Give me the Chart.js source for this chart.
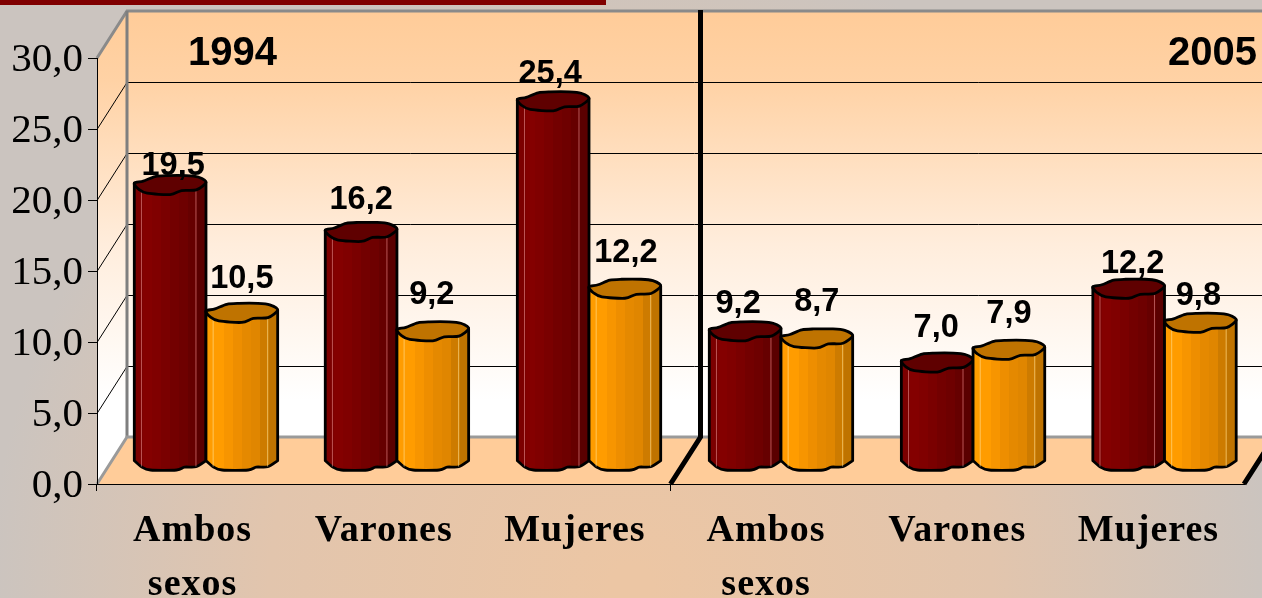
<!DOCTYPE html>
<html lang="es">
<head>
<meta charset="utf-8">
<title>1994 - 2005</title>
<style>html,body{margin:0;padding:0;background:#cbc4bf;overflow:hidden}canvas{display:block}</style>
<script src="https://cdn.jsdelivr.net/npm/chart.js@4/dist/chart.umd.js"></script>
</head>
<body>
<canvas id="c" width="1262" height="598"></canvas>
<script>
// ---- data ----
const categories = [['Ambos','sexos'],'Varones','Mujeres',['Ambos','sexos'],'Varones','Mujeres'];
const seriesDark = [19.5,16.2,25.4,9.2,7.0,12.2];
const seriesOrange = [10.5,9.2,12.2,8.7,7.9,9.8];
const periodLabels = ['1994','2005'];

// ---- label nudges (style only: dx, gap above cylinder top centre) ----
const darkNudge = [[3,10],[0,23],[-3,18],[-7,18],[-1,26],[4,16]];
const orangeNudge = [[0,25],[-1,27],[1,27],[0,27],[0,27],[-2,18]];

// ---- depth of the 3D box ----
const depthX = 30, depthY = 47;
const barShiftY = 22, topRy = 9.5, bottomRy = 8.5;
const barShiftX = [13.4,13.2,14.1,14.9,15.8,16.1];

// outline of a faceted cylinder cap and foot, unit coordinates
const cap = [[-1,-.2],[-.75,-.42],[-.42,-.9],[-.09,-1],[.45,-1],[.78,-.85],[1,-.3],[.73,.5],[.32,.58],[0,1],[-.64,.85],[-.88,.42]];
const foot = [[-1,-.1],[-.8,.62],[-.55,1],[.18,1],[.4,.66],[.72,.62],[1,-.1]];

const darkBands = ['#7c0000','#840000','#800000','#7a0000','#730000','#6e0000','#660000','#5a0000'];
const orangeBands = ['#ff9c00','#ff9c00','#f79500','#ee8e00','#e58900','#e08600','#cd7b00','#bf7300'];

// smooth curve through points (open or closed)
function spline(ctx, P, closed, move){
  const n = P.length, at = k => closed ? P[(k+n)%n] : P[Math.max(0,Math.min(n-1,k))];
  if (move) ctx.moveTo(P[0][0],P[0][1]); else ctx.lineTo(P[0][0],P[0][1]);
  const last = closed ? n : n-1;
  for (let k=0;k<last;k++){
    const a=at(k-1), b=at(k), c=at(k+1), d=at(k+2);
    ctx.bezierCurveTo(b[0]+(c[0]-a[0])/7, b[1]+(c[1]-a[1])/7, c[0]-(d[0]-b[0])/7, c[1]-(d[1]-b[1])/7, c[0], c[1]);
  }
}

function cylinder(ctx, el, i, bands, topColor, hi){
  const cx = el.x + barShiftX[i], rx = el.width/2;
  const top = el.y - barShiftY, bot = el.base - barShiftY;
  ctx.lineJoin='round';
  // body
  ctx.beginPath();
  ctx.moveTo(cx-rx, top + cap[0][1]*topRy);
  spline(ctx, foot.map(p => [cx+p[0]*rx, bot+p[1]*bottomRy]), false, false);
  ctx.lineTo(cx+rx, top + cap[6][1]*topRy);
  ctx.closePath();
  const g = ctx.createLinearGradient(cx-rx,0,cx+rx,0);
  bands.forEach((c,k)=>{ g.addColorStop(k/bands.length,c); g.addColorStop((k+1)/bands.length,c); });
  ctx.fillStyle = g; ctx.fill();
  ctx.lineWidth=2.8; ctx.strokeStyle='#000'; ctx.stroke();
  // highlights
  ctx.lineWidth=1; ctx.strokeStyle=hi;
  [-.8,.72].forEach(f=>{ ctx.beginPath(); ctx.moveTo(cx+f*rx,top+6); ctx.lineTo(cx+f*rx,bot+5); ctx.stroke(); });
  // cap
  ctx.beginPath();
  spline(ctx, cap.map(p => [cx+p[0]*rx, top+p[1]*topRy]), true, true);
  ctx.closePath();
  ctx.fillStyle=topColor; ctx.fill();
  ctx.lineWidth=2.8; ctx.strokeStyle='#000'; ctx.stroke();
}

// bars are painted by the plugin below, so the paint order can be controlled
Chart.BarElement.prototype.draw = function(){};

const box3d = {
  id:'box3d',
  beforeDraw(chart){
    const ctx = chart.ctx, W = chart.width, H = chart.height;
    const yS = chart.scales.y, xS = chart.scales.x;
    const L = xS.left, R = xS.right, B = yS.bottom, T = yS.top;
    // slide background
    ctx.save();
    ctx.fillStyle='#cbc4bf'; ctx.fillRect(0,0,W,H);
    const bg = ctx.createRadialGradient(W*.5,H*.98,20,W*.5,H*.98,640);
    bg.addColorStop(0,'#ecc6a4'); bg.addColorStop(.55,'#e2c5ad'); bg.addColorStop(1,'#cbc4bf');
    ctx.fillStyle=bg; ctx.fillRect(0,0,W,H);
    ctx.fillStyle='#800000'; ctx.fillRect(0,0,606,5);
    // walls
    const wall = ctx.createLinearGradient(0,T-depthY,0,400);
    wall.addColorStop(0,'#ffcc99'); wall.addColorStop(.18,'#ffd2a5'); wall.addColorStop(.6,'#ffeddc'); wall.addColorStop(1,'#ffffff');
    ctx.fillStyle=wall;
    ctx.beginPath(); ctx.moveTo(L,T); ctx.lineTo(L+depthX,T-depthY); ctx.lineTo(W,T-depthY);
    ctx.lineTo(W,B-depthY); ctx.lineTo(L+depthX,B-depthY); ctx.lineTo(L,B); ctx.closePath(); ctx.fill();
    // floor
    ctx.fillStyle='#ffcc99';
    ctx.beginPath(); ctx.moveTo(L,B); ctx.lineTo(L+depthX,B-depthY); ctx.lineTo(R+depthX,B-depthY); ctx.lineTo(R,B); ctx.closePath(); ctx.fill();
    // gridlines on wall
    ctx.strokeStyle='#000'; ctx.lineWidth=1;
    yS.ticks.forEach(t=>{
      if (t.value===0 || t.value===30) return;
      const y = Math.round(yS.getPixelForValue(t.value))+.5;
      ctx.beginPath(); ctx.moveTo(L,y); ctx.lineTo(L+depthX,y-depthY); ctx.lineTo(W,y-depthY); ctx.stroke();
    });
    // grey frame
    ctx.strokeStyle='#8a8a8a'; ctx.lineWidth=3;
    ctx.beginPath(); ctx.moveTo(L,T); ctx.lineTo(L+depthX,T-depthY); ctx.lineTo(W,T-depthY); ctx.stroke();
    ctx.strokeStyle='#7f7f7f'; ctx.lineWidth=3;
    ctx.beginPath(); ctx.moveTo(L+depthX,T-depthY); ctx.lineTo(L+depthX,B-depthY); ctx.stroke();
    ctx.strokeStyle='#9a9a9a'; ctx.lineWidth=3;
    ctx.beginPath(); ctx.moveTo(L,B); ctx.lineTo(L+depthX,B-depthY); ctx.lineTo(W,B-depthY); ctx.stroke();
    // period separators
    const sep = [(xS.getPixelForValue(2)+xS.getPixelForValue(3))/2, R];
    ctx.strokeStyle='#000'; ctx.lineWidth=5; ctx.lineCap='butt';
    sep.forEach(x=>{
      ctx.beginPath(); ctx.moveTo(x,B); ctx.lineTo(x+depthX,B-depthY); ctx.lineTo(x+depthX,T-depthY-1); ctx.stroke();
    });
    ctx.restore();
  },
  afterDatasetsDraw(chart){
    const ctx = chart.ctx;
    const dark = chart.getDatasetMeta(0).data, orange = chart.getDatasetMeta(1).data;
    ctx.save();
    dark.forEach((el,i) => cylinder(ctx, el, i, darkBands, '#5f0000', 'rgba(255,170,170,.5)'));
    orange.forEach((el,i) => cylinder(ctx, el, i, orangeBands, '#bf7300', 'rgba(255,225,150,.6)'));
    ctx.fillStyle='#000'; ctx.textAlign='center'; ctx.textBaseline='alphabetic';
    ctx.font='bold 32.5px "Liberation Sans", Arial, sans-serif';
    const fmt = v => v.toFixed(1).replace('.',',');
    dark.forEach((el,i)=> ctx.fillText(fmt(seriesDark[i]), el.x+barShiftX[i]+darkNudge[i][0], el.y-barShiftY-darkNudge[i][1]));
    orange.forEach((el,i)=> ctx.fillText(fmt(seriesOrange[i]), el.x+barShiftX[i]+orangeNudge[i][0], el.y-barShiftY-orangeNudge[i][1]));
    ctx.font='bold 40px "Liberation Sans", Arial, sans-serif';
    ctx.textAlign='left';
    ctx.fillText(periodLabels[0], 188, 65);
    ctx.fillText(periodLabels[1], 1168, 65);
    ctx.restore();
  },
  afterLayout(chart){
    const s = chart.scales.x;
    if (!s._spaced){
      const d = s.drawLabels.bind(s);
      s.drawLabels = a => { const c=chart.ctx; c.save(); c.letterSpacing='1px'; d(a); c.restore(); };
      s._spaced = true;
    }
  }
};

new Chart(document.getElementById('c'),{
  type:'bar',
  data:{labels:categories,datasets:[
    {label:'Serie 1',data:seriesDark,backgroundColor:'#800000',categoryPercentage:.75,barPercentage:1},
    {label:'Serie 2',data:seriesOrange,backgroundColor:'#ff9900',categoryPercentage:.75,barPercentage:1}
  ]},
  options:{
    responsive:false,animation:false,
    layout:{padding:{left:0,top:58,right:18,bottom:0}},
    plugins:{legend:{display:false},tooltip:{enabled:false},title:{display:false}},
    scales:{
      x:{
        grid:{drawOnChartArea:false,drawTicks:true,tickLength:7,offset:true,
          tickColor:c=>c.index%3===0?'#000':'rgba(0,0,0,0)'},
        border:{display:true,color:'#000',width:1},
        ticks:{color:'#000',padding:14,maxRotation:0,autoSkip:false,
          font:{family:'"Liberation Serif","Times New Roman",serif',size:38,weight:'bold',lineHeight:1.4}},
        afterFit(s){s.height=114;}
      },
      y:{
        min:0,max:30,
        grid:{drawOnChartArea:false,drawTicks:true,tickLength:9,tickColor:'#000'},
        border:{display:true,color:'#000',width:1},
        ticks:{stepSize:5,color:'#000',padding:5,labelOffset:2,
          font:{family:'"Liberation Serif","Times New Roman",serif',size:41},
          callback:v=>v.toFixed(1).replace('.',',')},
        afterFit(s){s.width=97;}
      }
    }
  },
  plugins:[box3d]
});
</script>
</body>
</html>
